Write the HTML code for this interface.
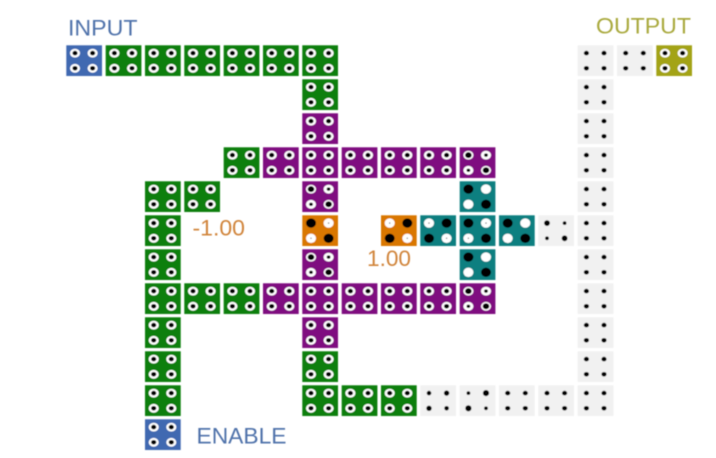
<!DOCTYPE html>
<html>
<head>
<meta charset="utf-8">
<style>
html,body{margin:0;padding:0;background:#fff;width:716px;height:458px;overflow:hidden}
svg{display:block}
text{font-family:"Liberation Sans",sans-serif;font-size:22px}
</style>
</head>
<body>
<svg width="716" height="458" viewBox="0 0 716 458" xmlns="http://www.w3.org/2000/svg">
<defs>
<filter id="s" x="-2%" y="-2%" width="104%" height="104%"><feGaussianBlur stdDeviation="0.4"/></filter>
<g id="n">
<g fill="#fff"><ellipse cx="8.7" cy="7.8" rx="5" ry="4.4"/><ellipse cx="26.3" cy="7.8" rx="5" ry="4.4"/><ellipse cx="8.7" cy="23" rx="5" ry="4.4"/><ellipse cx="26.3" cy="23" rx="5" ry="4.4"/></g>
<g fill="#000"><ellipse cx="8.7" cy="7.8" rx="2.6" ry="2.3"/><ellipse cx="26.3" cy="7.8" rx="2.6" ry="2.3"/><ellipse cx="8.7" cy="23" rx="2.6" ry="2.3"/><ellipse cx="26.3" cy="23" rx="2.6" ry="2.3"/></g>
</g>
<g id="b">
<g fill="#fff"><ellipse cx="8.7" cy="7.8" rx="5" ry="4.4"/><ellipse cx="26.3" cy="7.8" rx="5" ry="4.4"/><ellipse cx="8.7" cy="23" rx="5" ry="4.4"/><ellipse cx="26.3" cy="23" rx="5" ry="4.4"/></g>
<g fill="#000"><ellipse cx="8.7" cy="7.8" rx="3.3" ry="3"/><ellipse cx="26.3" cy="7.8" rx="1.9" ry="1.7"/><ellipse cx="8.7" cy="23" rx="1.9" ry="1.7"/><ellipse cx="26.3" cy="23" rx="3.3" ry="3"/></g>
</g>
<g id="w">
<ellipse cx="8.7" cy="7.8" rx="5" ry="4.7" fill="#000"/><ellipse cx="26.3" cy="7.8" rx="5" ry="4.7" fill="#fff"/><ellipse cx="8.7" cy="23" rx="5" ry="4.7" fill="#fff"/><ellipse cx="26.3" cy="23" rx="5" ry="4.7" fill="#000"/>
</g>
<g id="x">
<use href="#w"/>
<circle cx="26.3" cy="7.8" r="0.7" fill="#777"/><circle cx="8.7" cy="23" r="0.7" fill="#777"/>
</g>
<g id="m">
<ellipse cx="8.7" cy="7.8" rx="5" ry="4.7" fill="#fff"/><ellipse cx="26.3" cy="7.8" rx="5" ry="4.7" fill="#000"/><ellipse cx="8.7" cy="23" rx="5" ry="4.7" fill="#000"/><ellipse cx="26.3" cy="23" rx="5" ry="4.7" fill="#fff"/>
<circle cx="8.7" cy="7.8" r="0.7" fill="#777"/><circle cx="26.3" cy="23" r="0.7" fill="#777"/>
</g>
<g id="o"><rect width="35.7" height="30.7" fill="#0b7f0b"/><use href="#n"/></g>
<g id="p"><rect width="35.7" height="30.7" fill="#7f0f80"/><use href="#n"/></g>
<g id="q"><rect width="35.7" height="30.7" fill="#7f0f80"/><use href="#b"/></g>
<g id="l"><rect width="35.7" height="30.7" fill="#3f69b1"/><use href="#n"/></g>
<g id="y"><rect width="35.7" height="30.7" fill="#a3a312"/><use href="#n"/></g>
<g id="t"><rect width="35.7" height="30.7" fill="#0c7f80"/><use href="#w"/></g>
<g id="v"><rect width="35.7" height="30.7" fill="#0c7f80"/><use href="#x"/></g>
<g id="u"><rect width="35.7" height="30.7" fill="#0c7f80"/><use href="#m"/></g>
<g id="a"><rect width="35.7" height="30.7" fill="#d97706"/><use href="#x"/></g>
<g id="c"><rect width="35.7" height="30.7" fill="#d97706"/><use href="#m"/></g>
<g id="e"><rect width="35.7" height="30.7" fill="#f1f1f1"/>
<g fill="#000"><ellipse cx="8.7" cy="7.8" rx="2.6" ry="2.3"/><ellipse cx="26.3" cy="7.8" rx="2.6" ry="2.3"/><ellipse cx="8.7" cy="23" rx="2.6" ry="2.3"/><ellipse cx="26.3" cy="23" rx="2.6" ry="2.3"/></g></g>
<g id="f"><rect width="35.7" height="30.7" fill="#f1f1f1"/>
<g fill="#000"><circle cx="8.7" cy="7.8" r="2.9"/><circle cx="26.3" cy="7.8" r="1.9"/><circle cx="8.7" cy="23" r="1.9"/><circle cx="26.3" cy="23" r="2.9"/></g></g>
<g id="h"><rect width="35.7" height="30.7" fill="#f1f1f1"/>
<g fill="#000"><circle cx="8.7" cy="7.8" r="1.9"/><circle cx="26.3" cy="7.8" r="3.1"/><circle cx="8.7" cy="23" r="3.1"/><circle cx="26.3" cy="23" r="1.9"/></g></g>
<g id="j"><rect width="35.7" height="30.7" fill="#f1f1f1"/>
<g fill="#000"><circle cx="8.7" cy="7.8" r="2.3"/><circle cx="26.3" cy="7.8" r="2.7"/><circle cx="8.7" cy="23" r="2.7"/><circle cx="26.3" cy="23" r="2.3"/></g></g>
</defs>
<g filter="url(#s)">
<!-- row 0 -->
<use href="#l" x="66.3" y="45.3"/>
<use href="#o" x="105.7" y="45.3"/>
<use href="#o" x="145" y="45.3"/>
<use href="#o" x="184.3" y="45.3"/>
<use href="#o" x="223.7" y="45.3"/>
<use href="#o" x="263" y="45.3"/>
<use href="#o" x="302.3" y="45.3"/>
<use href="#e" x="577.7" y="45.3"/>
<use href="#e" x="617" y="45.3"/>
<use href="#y" x="656.3" y="45.3"/>
<!-- row 1 -->
<use href="#o" x="302.3" y="79.3"/>
<use href="#e" x="577.7" y="79.3"/>
<!-- row 2 -->
<use href="#p" x="302.3" y="113.3"/>
<use href="#e" x="577.7" y="113.3"/>
<!-- row 3 -->
<use href="#o" x="223.7" y="147.3"/>
<use href="#p" x="263" y="147.3"/>
<use href="#p" x="302.3" y="147.3"/>
<use href="#p" x="341.7" y="147.3"/>
<use href="#p" x="381" y="147.3"/>
<use href="#p" x="420.3" y="147.3"/>
<use href="#q" x="459.7" y="147.3"/>
<use href="#e" x="577.7" y="147.3"/>
<!-- row 4 -->
<use href="#o" x="145" y="181.3"/>
<use href="#o" x="184.3" y="181.3"/>
<use href="#q" x="302.3" y="181.3"/>
<use href="#t" x="459.7" y="181.3"/>
<use href="#e" x="577.7" y="181.3"/>
<!-- row 5 -->
<use href="#o" x="145" y="215.3"/>
<use href="#a" x="302.3" y="215.3"/>
<use href="#c" x="381" y="215.3"/>
<use href="#u" x="420.3" y="215.3"/>
<use href="#v" x="459.7" y="215.3"/>
<use href="#t" x="499" y="215.3"/>
<use href="#f" x="538.3" y="215.3"/>
<use href="#e" x="577.7" y="215.3"/>
<!-- row 6 -->
<use href="#o" x="145" y="249.3"/>
<use href="#q" x="302.3" y="249.3"/>
<use href="#t" x="459.7" y="249.3"/>
<use href="#e" x="577.7" y="249.3"/>
<!-- row 7 -->
<use href="#o" x="145" y="283.3"/>
<use href="#o" x="184.3" y="283.3"/>
<use href="#o" x="223.7" y="283.3"/>
<use href="#p" x="263" y="283.3"/>
<use href="#p" x="302.3" y="283.3"/>
<use href="#p" x="341.7" y="283.3"/>
<use href="#p" x="381" y="283.3"/>
<use href="#p" x="420.3" y="283.3"/>
<use href="#q" x="459.7" y="283.3"/>
<use href="#e" x="577.7" y="283.3"/>
<!-- row 8 -->
<use href="#o" x="145" y="317.3"/>
<use href="#p" x="302.3" y="317.3"/>
<use href="#e" x="577.7" y="317.3"/>
<!-- row 9 -->
<use href="#o" x="145" y="351.3"/>
<use href="#o" x="302.3" y="351.3"/>
<use href="#e" x="577.7" y="351.3"/>
<!-- row 10 -->
<use href="#o" x="145" y="385.3"/>
<use href="#o" x="302.3" y="385.3"/>
<use href="#o" x="341.7" y="385.3"/>
<use href="#o" x="381" y="385.3"/>
<use href="#j" x="420.3" y="385.3"/>
<use href="#h" x="459.7" y="385.3"/>
<use href="#e" x="499" y="385.3"/>
<use href="#e" x="538.3" y="385.3"/>
<use href="#e" x="577.7" y="385.3"/>
<!-- row 11 -->
<use href="#l" x="145" y="419.3"/>
<!-- labels -->
<text x="68" y="35.3" fill="#4f72aa" textLength="69.5" lengthAdjust="spacingAndGlyphs">INPUT</text>
<text x="596" y="33.3" fill="#a9a93c" textLength="95" lengthAdjust="spacingAndGlyphs">OUTPUT</text>
<text x="192.5" y="235.7" fill="#d0843a" textLength="52.5" lengthAdjust="spacingAndGlyphs">-1.00</text>
<text x="367" y="266" fill="#d0843a" textLength="44" lengthAdjust="spacingAndGlyphs">1.00</text>
<text x="196.5" y="443.3" fill="#4f72aa" textLength="90" lengthAdjust="spacingAndGlyphs">ENABLE</text>
</g>
</svg>
</body>
</html>
